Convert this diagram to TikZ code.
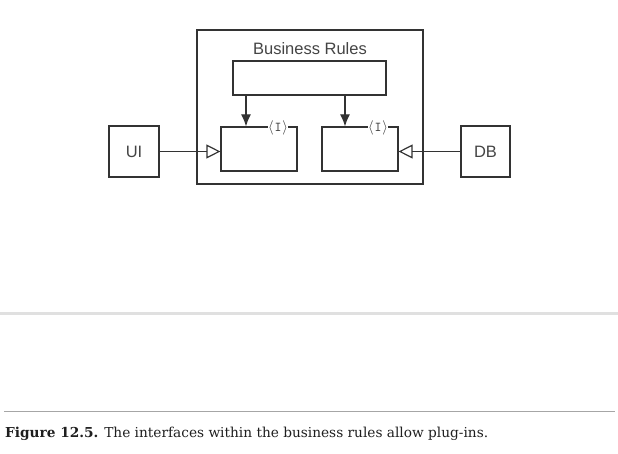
\documentclass[tikz,border=0pt]{standalone}
\usepackage{fontspec}
\usepackage{xcolor}
\usepackage{tikz}
\usetikzlibrary{arrows.meta}
\setmainfont{DejaVu Serif}
\newfontfamily\diagfont{Liberation Sans}

\definecolor{linegray}{HTML}{333333}
\definecolor{textgray}{HTML}{444444}
\tikzset{
    box/.style={draw=linegray, line width=1.2pt, rectangle, inner sep=0pt},
    boxlabel/.style={font=\diagfont\fontsize{16.5}{18}\selectfont, text=textgray},
    iface/.style={fill=white, inner sep=0.5pt, font=\fontsize{13.5}{15}\selectfont, text=linegray},
    uses/.style={draw=linegray, line width=1.2pt, -{Latex[length=12pt, width=10pt]}},
    plugs/.style={draw=linegray, line width=1.3pt, -{Triangle[open, length=14pt, width=14pt, line width=1.2pt]}}
}

\begin{document}
\begin{tikzpicture}[x=1pt, y=-1pt]
    \useasboundingbox (0,0) rectangle (618,454);
    % business rules with core and two interfaces
    \node[box, minimum width=226pt, minimum height=154pt] (rules) at (310,107) {};
    \node[boxlabel] (title) at (310,49) {Business Rules};
    \node[box, minimum width=153pt, minimum height=34pt] (core) at (309.5,78) {};
    \node[box, minimum width=76pt, minimum height=44pt] (ifl) at (259,149) {};
    \node[box, minimum width=76pt, minimum height=44pt] (ifr) at (360,149) {};
    \node[iface] (tagl) at (278,128) {$\langle\mkern1mu$\texttt{I}$\mkern1mu\rangle$};
    \node[iface] (tagr) at (378,128) {$\langle\mkern1mu$\texttt{I}$\mkern1mu\rangle$};

    % plug-ins
    \node[box, boxlabel, minimum width=50pt, minimum height=51pt] (ui) at (134,151.5) {UI};
    \node[box, boxlabel, minimum width=49pt, minimum height=51pt] (db) at (485.5,151.5) {DB};

    \coordinate (inl) at ([xshift=-13pt]ifl.north);
    \coordinate (inr) at ([xshift=-15pt]ifr.north);
    \draw[uses] (core.south -| inl) -- (inl);
    \draw[uses] (core.south -| inr) -- (inr);
    \draw[plugs] (ui.east) -- (ui.east -| ifl.west);
    \draw[plugs] (db.west) -- (db.west -| ifr.east);

    % page rules and caption
    \draw[line width=3.5pt, black!12] (0,313.3) -- (618,313.3);
    \draw[line width=1pt, black!35] (4,411.5) -- (615,411.5);
    \node[anchor=base west, inner sep=0pt, text=black!88, font=\fontsize{13.7}{16}\selectfont] (caption) at (5,437)
        {\textbf{Figure 12.5.} The interfaces within the business rules allow plug-ins.};
\end{tikzpicture}
\end{document}
